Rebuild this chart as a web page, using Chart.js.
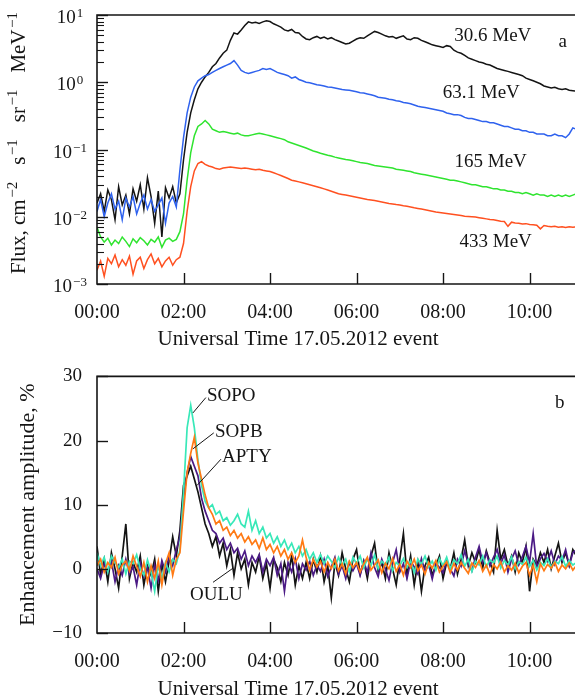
<!DOCTYPE html>
<html><head><meta charset="utf-8">
<script src="https://cdn.jsdelivr.net/npm/chart.js@4.4.1/dist/chart.umd.min.js"></script>
<style>
html,body{margin:0;padding:0;background:#fff;}
.panel{width:575px;height:350px;position:relative;}
canvas{display:block;}
</style></head><body>
<div class="panel"><canvas id="ca"></canvas></div>
<div class="panel"><canvas id="cb"></canvas></div>
<script>
// ---------- data ----------
const minutes = [
 0,5,10,15,20,25,30,35,40,45,50,55,
 60,65,70,75,80,85,90,95,100,105,110,115,
 120,125,130,135,140,145,150,155,160,165,170,175,
 180,185,190,195,200,205,210,215,220,225,230,235,
 240,245,250,255,260,265,270,275,280,285,290,295,
 300,305,310,315,320,325,330,335,340,345,350,355,
 360,365,370,375,380,385,390,395,400,405,410,415,
 420,425,430,435,440,445,450,455,460,465,470,475,
 480,485,490,495,500,505,510,515,520,525,530,535,
 540,545,550,555,560,565,570,575,580,585,590,595,
 600,605,610,615,620,625,630,635,640,645,650,655,
 660,665];
const tickMinutes = [0,120,240,360,480,600];
const tickLabels = ['00:00','02:00','04:00','06:00','08:00','10:00'];
const fluxDecades = [1,0,-1,-2,-3];
const ampTicks = [30,20,10,0,-10];

// panel a: proton flux, cm-2 s-1 sr-1 MeV-1
const flux30 = [
 0.016,0.022,0.012,0.025,0.018,0.009,0.028,0.015,0.021,0.011,0.026,0.017,
 0.03,0.013,0.038,0.02,0.008,0.024,0.005,0.027,0.019,0.028,0.016,0.022,
 0.07,0.18,0.35,0.55,0.8,1.0,1.2,1.4,1.7,1.9,2.3,2.7,
 3.0,4.2,5.4,5.2,6.0,7.0,7.9,7.6,7.8,7.5,7.9,8.2,
 8.0,7.4,7.0,6.6,6.0,5.8,6.1,5.5,5.4,4.8,4.4,4.3,
 4.6,4.8,4.5,4.7,4.4,4.6,4.3,4.1,3.9,3.7,3.8,4.1,
 4.4,4.6,4.5,4.9,5.3,5.7,5.5,5.2,4.9,4.7,4.8,4.5,
 4.7,4.9,4.4,4.3,4.6,4.5,4.2,4.0,3.8,3.6,3.5,3.4,
 3.3,3.5,3.4,3.0,2.8,2.7,2.5,2.3,2.2,2.1,2.0,1.95,
 1.85,1.8,1.7,1.6,1.55,1.5,1.45,1.4,1.35,1.3,1.25,1.15,
 1.1,1.05,1.0,0.95,0.88,0.85,0.82,0.84,0.8,0.78,0.8,0.76,
 0.75,0.74];
const flux63 = [
 0.012,0.018,0.01,0.016,0.022,0.013,0.017,0.009,0.019,0.014,0.02,0.011,
 0.016,0.021,0.013,0.018,0.012,0.015,0.019,0.008,0.016,0.02,0.014,0.05,
 0.15,0.35,0.6,0.85,1.05,1.15,1.25,1.3,1.4,1.5,1.6,1.7,
 1.8,1.9,2.1,1.8,1.5,1.4,1.35,1.4,1.45,1.5,1.6,1.55,
 1.6,1.5,1.4,1.35,1.3,1.25,1.15,1.2,1.1,1.05,1.0,0.98,
 0.95,0.92,0.9,0.88,0.85,0.84,0.82,0.8,0.78,0.77,0.76,0.74,
 0.72,0.7,0.69,0.67,0.65,0.63,0.6,0.59,0.58,0.56,0.55,0.53,
 0.52,0.5,0.49,0.48,0.46,0.44,0.43,0.42,0.41,0.4,0.39,0.38,
 0.37,0.35,0.34,0.33,0.33,0.32,0.3,0.29,0.29,0.28,0.27,0.26,
 0.26,0.25,0.25,0.24,0.23,0.22,0.22,0.21,0.2,0.2,0.19,0.19,
 0.18,0.18,0.17,0.17,0.17,0.16,0.16,0.17,0.16,0.16,0.15,0.17,
 0.21,0.2];
const flux165 = [
 0.007,0.005,0.0042,0.0048,0.0038,0.0045,0.004,0.005,0.0043,0.0036,0.0047,0.0041,
 0.0049,0.0044,0.0038,0.0046,0.0042,0.005,0.0035,0.0045,0.0048,0.0043,0.0046,0.006,
 0.011,0.035,0.09,0.16,0.22,0.24,0.27,0.24,0.2,0.19,0.18,0.185,
 0.18,0.175,0.17,0.175,0.165,0.16,0.16,0.165,0.17,0.175,0.17,0.165,
 0.16,0.155,0.15,0.145,0.14,0.13,0.125,0.12,0.115,0.11,0.105,0.1,
 0.095,0.092,0.088,0.085,0.082,0.08,0.077,0.075,0.073,0.071,0.07,0.068,
 0.066,0.064,0.063,0.062,0.06,0.058,0.057,0.056,0.055,0.054,0.053,0.051,
 0.05,0.049,0.048,0.047,0.045,0.044,0.043,0.042,0.041,0.04,0.039,0.038,
 0.037,0.036,0.035,0.035,0.034,0.033,0.032,0.031,0.03,0.03,0.029,0.028,
 0.028,0.027,0.026,0.026,0.025,0.025,0.024,0.024,0.023,0.023,0.022,0.023,
 0.022,0.021,0.022,0.021,0.021,0.02,0.021,0.02,0.021,0.02,0.021,0.02,
 0.021,0.022];
const flux433 = [
 0.0016,0.0022,0.0013,0.0024,0.002,0.0027,0.0018,0.0023,0.0019,0.0026,0.0014,0.0022,
 0.0025,0.0017,0.0023,0.0028,0.002,0.0024,0.0018,0.0022,0.0025,0.0019,0.0023,0.0025,
 0.004,0.012,0.028,0.048,0.062,0.066,0.06,0.057,0.055,0.052,0.051,0.053,
 0.054,0.055,0.054,0.053,0.052,0.053,0.052,0.051,0.05,0.051,0.049,0.048,
 0.047,0.045,0.043,0.041,0.039,0.037,0.035,0.034,0.033,0.032,0.031,0.03,
 0.029,0.028,0.027,0.026,0.025,0.024,0.023,0.022,0.0215,0.021,0.0205,0.02,
 0.0195,0.019,0.0185,0.018,0.0177,0.0174,0.017,0.0166,0.0162,0.0158,0.0155,0.0152,
 0.015,0.0146,0.0143,0.014,0.0136,0.0133,0.013,0.0127,0.0124,0.0121,0.0118,0.0116,
 0.0114,0.0112,0.011,0.0108,0.0106,0.0104,0.0102,0.0101,0.01,0.0099,0.0097,0.0095,
 0.0093,0.0091,0.009,0.0088,0.0086,0.0085,0.0072,0.0083,0.0081,0.008,0.0078,0.0079,
 0.0077,0.0076,0.0075,0.0066,0.0074,0.0072,0.0071,0.0072,0.007,0.0071,0.0069,0.0071,
 0.007,0.0071];

// panel b: neutron monitor enhancement, %
const sopo = [
 2.5,0.5,1.8,-0.5,2.0,1.0,0.2,1.5,-0.8,1.2,0.8,2.2,
 0.0,-1.0,1.4,-0.5,-3.5,0.5,-1.5,1.0,-0.5,1.5,0.8,3.0,
 12.0,22.0,25.5,22.0,17.0,13.0,10.5,9.5,10.0,8.5,9.0,7.5,
 8.0,6.8,7.5,8.5,7.0,6.5,9.0,6.0,7.5,5.5,6.5,4.8,
 5.5,4.0,5.0,3.5,4.5,3.0,4.0,2.5,3.5,2.0,3.0,1.5,
 2.5,1.0,2.2,0.8,2.0,1.2,0.2,1.8,0.5,1.5,-0.5,1.8,
 0.8,2.0,0.2,1.5,0.5,2.2,0.0,1.2,0.6,1.8,-0.3,1.0,
 0.5,1.6,0.2,1.3,-0.6,1.5,0.7,2.0,0.3,1.2,-0.2,1.6,
 0.5,1.8,0.0,1.4,0.8,2.2,0.4,1.5,-0.4,1.2,0.6,2.0,
 0.3,1.4,0.9,2.0,0.1,1.3,0.6,1.9,0.0,1.1,0.7,1.8,
 0.4,1.3,-0.2,1.0,0.5,1.6,0.2,1.2,0.8,1.9,0.4,1.3,
 0.6,1.0];
const sopb = [
 0.5,1.5,-0.5,1.0,0.2,1.8,-0.8,0.6,1.2,-0.3,2.0,0.4,
 -1.2,1.0,-2.0,0.5,-1.5,1.2,-2.5,0.8,2.5,-1.0,1.5,2.5,
 9.0,15.0,18.0,20.5,16.5,14.0,11.5,9.5,8.5,7.0,7.5,6.0,
 6.5,5.2,6.0,4.8,5.5,4.2,5.0,3.8,4.5,3.2,4.8,3.0,
 3.8,2.5,3.5,2.0,3.0,1.5,2.5,1.0,2.0,4.5,1.8,-0.2,
 1.5,0.3,1.2,-0.5,1.0,0.0,1.5,-0.3,0.8,-0.8,1.2,0.2,
 1.0,-0.5,0.8,1.8,-0.2,0.6,1.4,-0.6,0.9,0.0,1.6,-0.4,
 0.7,-1.0,1.2,0.2,1.5,-0.3,0.6,-0.8,1.0,0.1,1.3,-0.5,
 0.4,1.1,-0.6,0.8,-0.2,1.0,0.1,-0.7,0.9,0.2,1.3,-0.4,
 0.6,-0.9,0.7,0.0,1.1,-0.5,0.5,-0.2,0.9,-0.6,0.4,1.0,
 -1.0,0.6,-2.0,0.8,-0.3,0.7,0.1,1.0,-0.4,0.6,0.0,0.9,
 -0.2,0.5];
const apty = [
 0.0,-1.5,0.8,-0.5,1.2,-2.0,0.5,-1.0,1.5,-0.8,0.3,-2.5,
 1.0,-1.2,0.2,-3.0,0.6,-1.8,1.3,-0.5,2.0,0.5,3.0,5.0,
 11.0,15.0,17.5,16.0,14.5,11.0,9.0,7.5,6.0,5.5,4.0,4.8,
 3.0,4.0,2.5,3.2,1.5,2.8,0.5,2.0,1.0,2.2,-0.5,1.5,
 0.5,1.8,-1.0,0.8,-3.5,1.0,-0.5,1.6,-1.5,0.8,-0.2,1.2,
 -1.0,0.6,-0.4,1.5,-1.2,0.3,1.8,-0.8,0.5,-1.5,1.0,-0.3,
 0.8,-1.0,1.2,-0.6,2.5,0.2,-1.2,1.5,0.0,-1.8,1.0,3.0,
 -0.5,0.8,-1.5,1.2,0.3,-0.8,1.6,-0.4,0.7,-1.6,0.9,0.2,
 -0.6,1.3,0.0,-1.1,1.5,0.4,2.8,0.8,-0.3,1.8,3.5,1.0,
 2.5,0.5,1.8,3.0,0.8,2.2,-0.5,1.5,2.8,0.6,1.9,3.5,
 1.0,5.5,0.2,1.6,2.4,1.2,2.8,0.7,2.0,1.3,3.0,0.5,
 2.5,3.0];
const oulu = [
 3.5,-1.0,1.5,-2.0,2.5,0.0,-3.0,2.0,7.0,-1.5,1.0,-0.5,
 2.0,-2.5,0.5,-1.0,1.5,-3.5,0.8,-2.0,1.2,5.0,2.0,6.0,
 13.0,14.5,16.0,14.0,12.0,9.5,7.0,5.5,3.5,5.0,2.0,4.0,
 0.5,3.0,-1.0,2.5,0.0,1.5,-2.5,1.0,-0.5,2.0,-1.5,0.8,
 -3.0,1.5,0.2,-2.0,1.0,-1.0,2.0,-2.5,0.5,-1.5,1.0,-1.5,
 1.5,-0.5,2.0,-2.0,0.5,-4.5,1.0,-1.0,2.5,0.0,-2.0,1.5,
 3.0,-0.8,1.2,-1.5,2.0,4.0,-0.5,1.0,-1.5,2.5,0.0,-2.5,
 1.5,5.5,-1.0,2.0,-2.5,1.0,-3.5,0.5,1.8,-1.0,0.5,2.0,
 -1.5,1.0,0.0,2.5,-0.8,1.5,4.5,0.5,2.5,1.0,3.0,0.2,
 2.8,1.0,-0.5,6.0,1.5,3.0,0.5,2.0,-0.5,2.5,1.0,3.5,
 -3.5,1.5,0.5,2.5,1.0,3.0,0.0,2.0,4.0,1.0,2.5,0.5,
 3.0,2.0];

// ---------- styling / annotations ----------
const FONT = "'Liberation Serif','Times New Roman',serif";
const INK = '#151515';
const X_MAX = 663;
const X_TITLE = 'Universal Time 17.05.2012 event';
const fluxLabels = [
  {text:'30.6 MeV', x:549, y:4.9},
  {text:'63.1 MeV', x:533, y:0.69},
  {text:'165 MeV',  x:546, y:0.065},
  {text:'433 MeV',  x:553, y:0.0042}
];
const stationNotes = [
  {text:'SOPO', from:[133,24.3], to:[151,26.7], at:[152.6,26.9]},
  {text:'SOPB', from:[133,18.7], to:[162,21.2], at:[163.7,21.4]},
  {text:'APTY', from:[138.7,13.0], to:[172,17.1], at:[173.4,17.5]},
  {text:'OULU', from:[188.6,0.1], to:[160.9,-2.1], at:[129,-4.1]}
];

const pts = arr => arr.map((v,i) => ({x: minutes[i], y: v}));
const ds = (label, arr, color, w) => ({label, data: pts(arr), borderColor: color, backgroundColor: color,
  borderWidth: w, pointRadius: 0, tension: 0, fill: false});

function seg(ctx, x1, y1, x2, y2){ ctx.beginPath(); ctx.moveTo(x1,y1); ctx.lineTo(x2,y2); ctx.stroke(); }
function frame(ctx, a){
  ctx.lineWidth = 1.6; ctx.strokeStyle = INK;
  ctx.beginPath();
  ctx.moveTo(a.right + 5, a.top); ctx.lineTo(a.left, a.top);
  ctx.lineTo(a.left, a.bottom); ctx.lineTo(a.right + 5, a.bottom);
  ctx.stroke();
}
function xTicks(ctx, a, xs){
  ctx.lineWidth = 1.4;
  tickMinutes.forEach(v => { if (v === 0) return;
    const px = Math.round(xs.getPixelForValue(v)) + 0.5;
    seg(ctx, px, a.bottom, px, a.bottom - 11); });
}
function xTitle(ctx){
  ctx.fillStyle = INK; ctx.font = `21px ${FONT}`;
  ctx.textAlign = 'center'; ctx.textBaseline = 'alphabetic';
  ctx.fillText(X_TITLE, 298, 345);
}

const xScale = (extraH) => ({
  type: 'linear', min: 0, max: X_MAX,
  afterBuildTicks: s => { s.ticks = tickMinutes.map(v => ({value: v})); },
  afterFit: s => { s.height = extraH; },
  grid: {display: false, drawTicks: false}, border: {display: false},
  ticks: {autoSkip: false, maxRotation: 0, padding: 17, color: INK,
    font: {family: FONT, size: 20}, callback: (v, i) => tickLabels[i]},
  title: {display: false}
});

// ---------- panel a ----------
const decorA = {
  id: 'decorA',
  afterDraw(chart){
    const {ctx, chartArea: a} = chart; const xs = chart.scales.x, ys = chart.scales.y;
    ctx.save();
    frame(ctx, a); xTicks(ctx, a, xs);
    ctx.lineWidth = 1.4;
    fluxDecades.forEach(e => { const py = Math.round(ys.getPixelForValue(Math.pow(10, e))) + 0.5;
      seg(ctx, a.left, py, a.left + 11, py); });
    ctx.lineWidth = 1.1;
    [-3,-2,-1,0].forEach(e => { for (let m = 2; m <= 9; m++) {
      const py = Math.round(ys.getPixelForValue(m * Math.pow(10, e))) + 0.5;
      seg(ctx, a.left, py, a.left + 7, py); } });
    // tick labels 10^n
    ctx.fillStyle = INK; ctx.textAlign = 'left'; ctx.textBaseline = 'alphabetic';
    fluxDecades.forEach(e => {
      const py = ys.getPixelForValue(Math.pow(10, e));
      const sup = e < 0 ? '\u2212' + (-e) : String(e);
      ctx.font = `19px ${FONT}`; const w1 = ctx.measureText('10').width;
      ctx.font = `13px ${FONT}`; const w2 = ctx.measureText(sup).width;
      const x0 = 70 - (w1 + w2 + 1) / 2;
      ctx.font = `19px ${FONT}`; ctx.fillText('10', x0, py + 8);
      ctx.font = `13px ${FONT}`; ctx.fillText(sup, x0 + w1 + 1, py + 2);
    });
    // y title with superscripts
    const parts = [['Flux, cm',0],['\u22122',1],[' s',0],['\u22121',1],[' sr',0],['\u22121',1],[' MeV',0],['\u22121',1]];
    const mainF = `21px ${FONT}`, supF = `15px ${FONT}`;
    let base = 0; const ws = parts.map(([t, s]) => { ctx.font = s ? supF : mainF;
      const w = ctx.measureText(t).width + (s ? 1.5 : 0); base += w; return w; });
    const wordGap = Math.max(0, (262 - base) / 3);
    const total = base + wordGap * 3;
    ctx.save(); ctx.translate(25, 143); ctx.rotate(-Math.PI / 2);
    let cx = -total / 2;
    parts.forEach(([t, s], i) => {
      if (s) { ctx.font = supF; ctx.fillText(t, cx + 1.5, -8); cx += ws[i]; }
      else { if (i > 0) cx += wordGap; ctx.font = mainF; ctx.fillText(t, cx, 0); cx += ws[i]; }
    });
    ctx.restore();
    // curve labels
    ctx.font = `19px ${FONT}`; ctx.textAlign = 'center'; ctx.textBaseline = 'middle';
    fluxLabels.forEach(l => ctx.fillText(l.text, xs.getPixelForValue(l.x), ys.getPixelForValue(l.y)));
    ctx.fillText('a', xs.getPixelForValue(646), ys.getPixelForValue(3.96));
    xTitle(ctx);
    ctx.restore();
  }
};

new Chart(document.getElementById('ca'), {
  type: 'line',
  data: {datasets: [
    ds('63.1 MeV', flux63, '#2f62ee', 1.5),
    ds('30.6 MeV', flux30, '#141414', 1.5),
    ds('165 MeV', flux165, '#2fe42f', 1.5),
    ds('433 MeV', flux433, '#ff5020', 1.5)
  ]},
  options: {
    responsive: true, maintainAspectRatio: false, animation: false, devicePixelRatio: 1,
    layout: {padding: {top: 15, left: 0, right: 0, bottom: 0}},
    plugins: {legend: {display: false}, tooltip: {enabled: false}},
    scales: {
      x: xScale(66),
      y: {type: 'logarithmic', min: 0.001, max: 10,
        afterFit: s => { s.width = 97; },
        grid: {display: false, drawTicks: false}, border: {display: false},
        ticks: {display: false}}
    }
  },
  plugins: [decorA]
});

// ---------- panel b ----------
const decorB = {
  id: 'decorB',
  afterDraw(chart){
    const {ctx, chartArea: a} = chart; const xs = chart.scales.x, ys = chart.scales.y;
    ctx.save();
    frame(ctx, a); xTicks(ctx, a, xs);
    ctx.lineWidth = 1.4;
    ampTicks.forEach(v => { const py = Math.round(ys.getPixelForValue(v)) + 0.5;
      seg(ctx, a.left, py, a.left + 11, py); });
    ctx.fillStyle = INK; ctx.strokeStyle = INK; ctx.lineWidth = 1;
    ctx.font = `19px ${FONT}`; ctx.textAlign = 'left'; ctx.textBaseline = 'middle';
    stationNotes.forEach(n => {
      seg(ctx, xs.getPixelForValue(n.from[0]), ys.getPixelForValue(n.from[1]),
               xs.getPixelForValue(n.to[0]), ys.getPixelForValue(n.to[1]));
      ctx.fillText(n.text, xs.getPixelForValue(n.at[0]), ys.getPixelForValue(n.at[1]));
    });
    ctx.textAlign = 'center';
    ctx.fillText('b', xs.getPixelForValue(642), ys.getPixelForValue(25.8));
    xTitle(ctx);
    ctx.restore();
  }
};

new Chart(document.getElementById('cb'), {
  type: 'line',
  data: {datasets: [
    ds('SOPB', sopb, '#ff7a14', 1.7),
    ds('SOPO', sopo, '#38e8b8', 1.7),
    ds('APTY', apty, '#4b1a85', 1.7),
    ds('OULU', oulu, '#141414', 1.7)
  ]},
  options: {
    responsive: true, maintainAspectRatio: false, animation: false, devicePixelRatio: 1,
    layout: {padding: {top: 14, left: 0, right: 0, bottom: 0}},
    plugins: {legend: {display: false}, tooltip: {enabled: false}},
    scales: {
      x: xScale(67),
      y: {type: 'linear', min: -10, max: 30,
        afterBuildTicks: s => { s.ticks = ampTicks.map(v => ({value: v})); },
        afterFit: s => { s.width = 97; },
        grid: {display: false, drawTicks: false}, border: {display: false},
        ticks: {padding: 15, color: INK, font: {family: FONT, size: 19},
          callback: v => v < 0 ? '\u2212' + Math.abs(v) : String(v)},
        title: {display: true, text: 'Enhancement amplitude, %', color: INK,
          font: {family: FONT, size: 22}, padding: {top: 15, bottom: 0}}
      }
    }
  },
  plugins: [decorB]
});
</script>
</body></html>
